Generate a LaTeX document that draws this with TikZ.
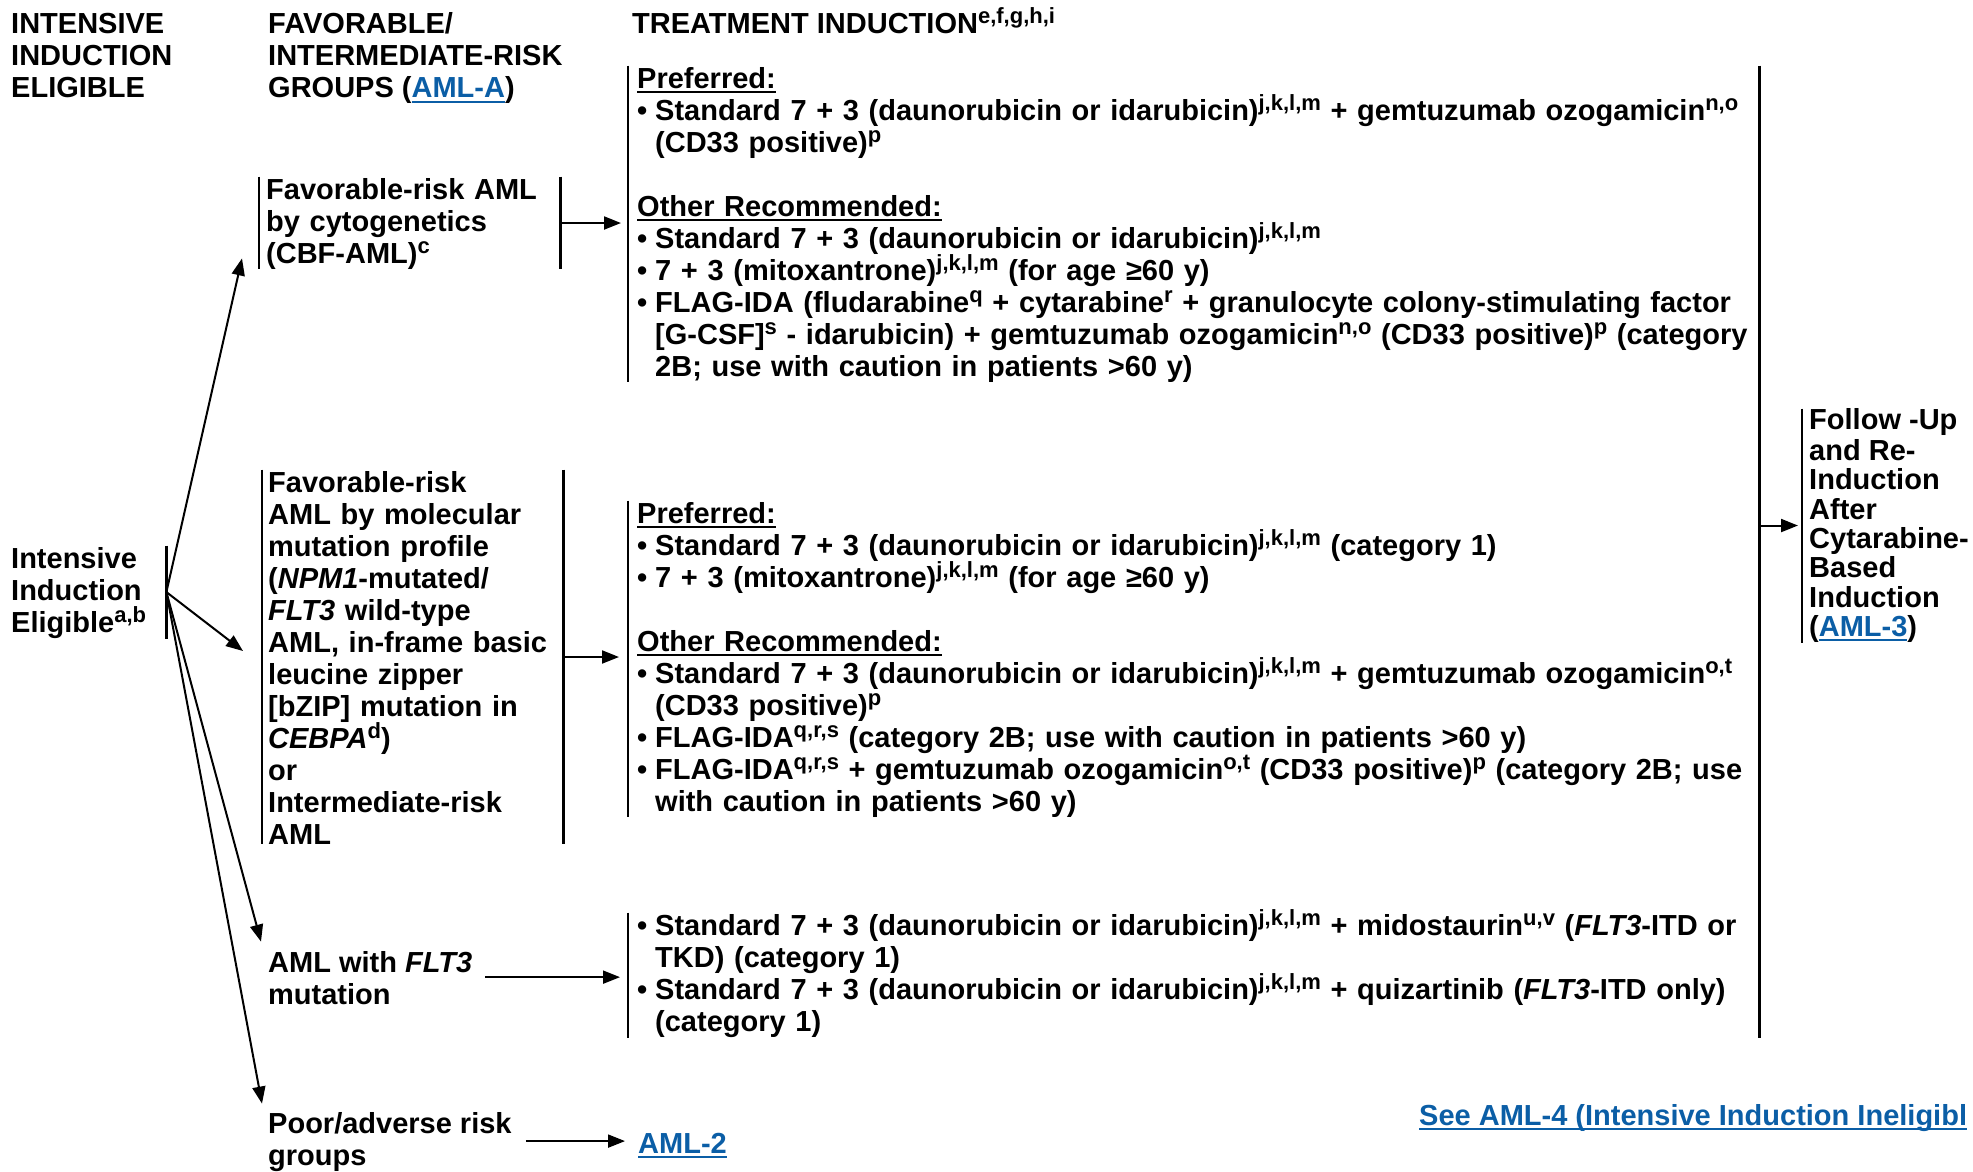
\documentclass[tikz,border=0pt]{standalone}
\usepackage{fontspec}
\setmainfont{Liberation Sans}
\usetikzlibrary{arrows.meta}
\definecolor{linkblue}{HTML}{0B5EA6}
\newsavebox{\ulbox}
\newcommand{\undl}[1]{\leavevmode\sbox{\ulbox}{#1}\rlap{\rule[-5pt]{\wd\ulbox}{2pt}}\usebox{\ulbox}}
\newcommand{\lnk}[1]{\textcolor{linkblue}{\undl{#1}}}
\newcommand{\sups}[1]{\smash{\raisebox{10pt}{\fontsize{22}{22}\selectfont #1}}}
\newcommand{\itm}{\makebox[18pt][l]{•}}
\newcommand{\ind}{\hspace*{18pt}}
\begin{document}
\begin{tikzpicture}[x=1pt,y=-1pt,
	txt/.style={font=\bfseries\fontsize{29}{32}\selectfont,inner sep=0pt,align=left,anchor=north west},
	trt/.style={txt,inner xsep=9pt,text width=1113pt},
	bar/.style={line width=2.2pt},
	arr/.style={line width=2pt,-{Triangle[length=17pt,width=13pt]}}]
	\useasboundingbox (0,0) rectangle (1973,1171);
	\clip (0,0) rectangle (1973,1171);
	\node[txt] (hdrElig) at (11,11) {\strut INTENSIVE\\INDUCTION\\ELIGIBLE};
	\node[txt] (hdrGrp) at (268,11) {\strut FAVORABLE/\\INTERMEDIATE-RISK\\GROUPS (\lnk{AML-A})};
	\node[txt,anchor=base west] (hdrTrt) at (632,33) {TREATMENT INDUCTION\sups{e,f,g,h,i}};
	\node[txt,text width=155pt] (elig) at (11,545.6) {\strut Intensive\\Induction\\Eligible\sups{a,b}};
	\node[txt,inner xsep=7pt,text width=287pt] (fav1) at (259,176.6)
		{\strut Favorable-risk AML\\by cytogenetics\\(CBF-AML)\sups{c}};
	\node[txt,inner xsep=6pt,text width=289pt] (fav2) at (262,469.6)
		{\strut Favorable-risk\\AML by molecular\\mutation profile\\(\textit{NPM1}-mutated/\\\textit{FLT3} wild-type\\AML, in-frame basic\\leucine zipper\\{[}bZIP] mutation in\\\textit{CEBPA}\sups{d})\\or\\Intermediate-risk\\AML};
	\node[txt] (flt3) at (268,949.6) {\strut AML with \textit{FLT3}\\mutation};
	\node[txt] (poor) at (268,1110.6) {\strut Poor/adverse risk\\groups};
	\node[txt,anchor=base west] (aml2) at (638,1153) {\lnk{AML-2}};
	\node[txt,anchor=base west] (seeAml4) at (1419,1125) {\lnk{See AML-4 (Intensive Induction Ineligibl}};
	\node[trt] (trt1) at (628,65.6) {\strut\undl{Preferred:}\\
		\itm Standard 7 + 3 (daunorubicin or idarubicin)\sups{j,k,l,m} + gemtuzumab ozogamicin\sups{n,o}\\
		\ind (CD33 positive)\sups{p}\\[32pt]
		\undl{Other Recommended:}\\
		\itm Standard 7 + 3 (daunorubicin or idarubicin)\sups{j,k,l,m}\\
		\itm 7 + 3 (mitoxantrone)\sups{j,k,l,m} (for age ≥60 y)\\
		\itm FLAG-IDA (fludarabine\sups{q} + cytarabine\sups{r} + granulocyte colony-stimulating factor\\
		\ind {[}G-CSF]\sups{s} - idarubicin) + gemtuzumab ozogamicin\sups{n,o} (CD33 positive)\sups{p} (category\\
		\ind 2B; use with caution in patients >60 y)};
	\node[trt] (trt2) at (628,500.6) {\strut\undl{Preferred:}\\
		\itm Standard 7 + 3 (daunorubicin or idarubicin)\sups{j,k,l,m} (category 1)\\
		\itm 7 + 3 (mitoxantrone)\sups{j,k,l,m} (for age ≥60 y)\\[32pt]
		\undl{Other Recommended:}\\
		\itm Standard 7 + 3 (daunorubicin or idarubicin)\sups{j,k,l,m} + gemtuzumab ozogamicin\sups{o,t}\\
		\ind (CD33 positive)\sups{p}\\
		\itm FLAG-IDA\sups{q,r,s} (category 2B; use with caution in patients >60 y)\\
		\itm FLAG-IDA\sups{q,r,s} + gemtuzumab ozogamicin\sups{o,t} (CD33 positive)\sups{p} (category 2B; use\\
		\ind with caution in patients >60 y)};
	\node[trt] (trt3) at (628,912.6) {\strut
		\itm Standard 7 + 3 (daunorubicin or idarubicin)\sups{j,k,l,m} + midostaurin\sups{u,v} (\textit{FLT3}-ITD or\\
		\ind TKD) (category 1)\\
		\itm Standard 7 + 3 (daunorubicin or idarubicin)\sups{j,k,l,m} + quizartinib (\textit{FLT3}-ITD only)\\
		\ind (category 1)};
	\node[txt,inner xsep=7pt,font=\bfseries\fontsize{29}{29.3}\selectfont] (fup) at (1802,408.5)
		{\strut Follow -Up\\and Re-\\Induction\\After\\Cytarabine-\\Based\\Induction\\(\lnk{AML-3})};
	\draw[bar] (elig.north east) -- (elig.south east);
	\foreach \n in {fav1,fav2}
		\draw[bar] (\n.north west) -- (\n.south west) (\n.north east) -- (\n.south east);
	\foreach \n in {trt1,trt2,trt3,fup}
		\draw[bar] (\n.north west) -- (\n.south west);
	\draw[bar] (trt1.north east) -- (trt3.south east);
	\draw[arr] (elig.east) -- ([xshift=-17pt,yshift=11pt]fav1.south west);
	\draw[arr] (elig.east) -- ([xshift=-19pt,yshift=6pt]fav2.west);
	\draw[arr] (elig.east) -- ([xshift=-7pt,yshift=8pt]flt3.north west);
	\draw[arr] (elig.east) -- ([xshift=-6pt,yshift=7pt]poor.north west);
	\draw[arr,shorten >=7pt] (fav1.east) -- (fav1.east -| trt1.west);
	\draw[arr,shorten >=9pt] (fav2.east) -- (fav2.east -| trt2.west);
	\draw[arr,shorten <=13pt,shorten >=8pt] (flt3.east) -- (flt3.east -| trt3.west);
	\draw[arr,shorten <=14pt,shorten >=13pt] (poor.east) -- (poor.east -| aml2.west);
	\draw[arr,shorten >=4pt] (fup.west -| trt1.east) -- (fup.west);
\end{tikzpicture}
\end{document}
